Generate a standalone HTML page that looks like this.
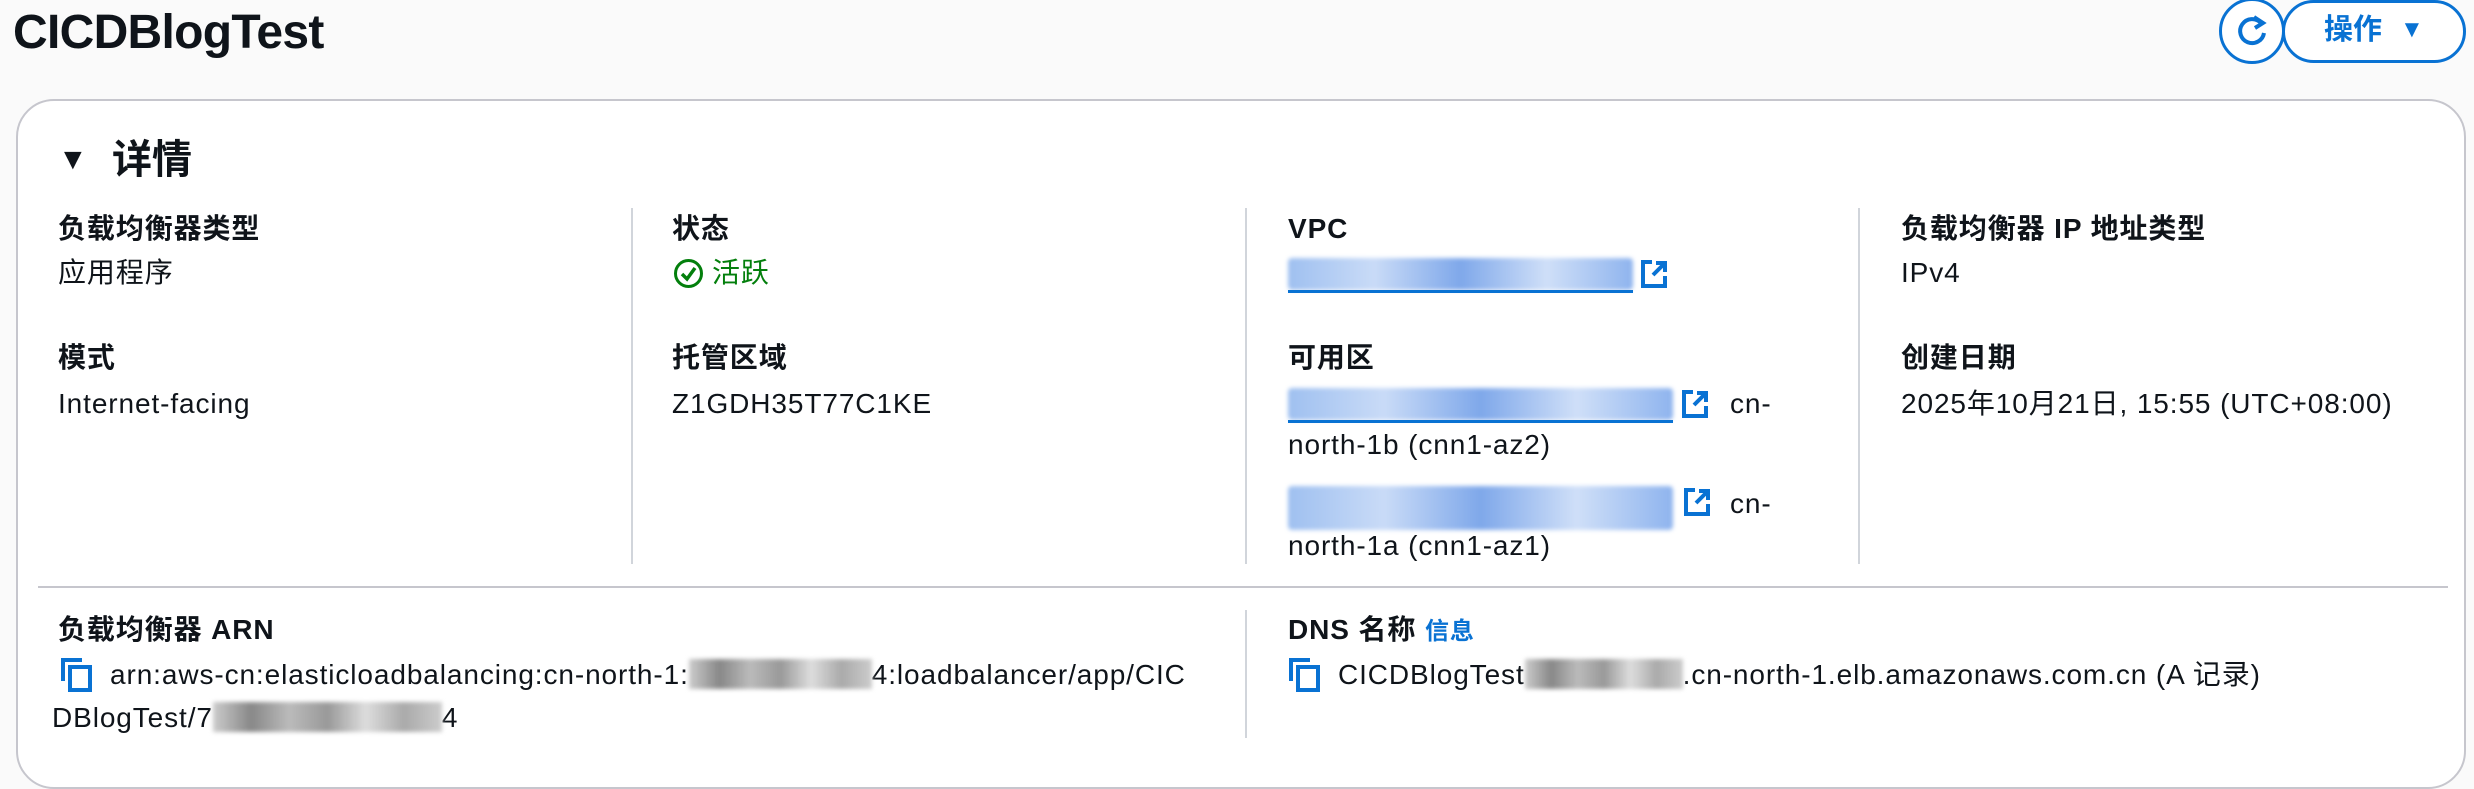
<!DOCTYPE html>
<html><head><meta charset="utf-8"><style>
*{margin:0;padding:0;box-sizing:border-box}
body{width:2474px;height:780px;background:#fafafa;font-family:"Liberation Sans","Noto Sans CJK SC",sans-serif;color:#0f141a;position:relative;overflow:hidden}
.a{position:absolute;white-space:nowrap;line-height:1}
.t{font-size:28px;letter-spacing:0.9px}
.b{font-weight:bold}
.link{color:#0972d3}
.vd{position:absolute;width:2px;background:#d1d5db}
.blur{position:absolute;background:linear-gradient(90deg,#9fc0f0,#c9dbf7,#7fa8ea,#cfdff8,#8fb4ee);filter:blur(2px);border-radius:4px}
.g{display:inline-block;vertical-align:middle;height:30px;background:linear-gradient(90deg,#ccc,#888,#bbb,#999,#ddd,#aaa,#ccc);filter:blur(2px)}
</style></head><body>
<div class="a b" style="left:13px;top:9px;font-size:48px;letter-spacing:-0.7px">CICDBlogTest</div>
<div class="a" style="left:2219px;top:-2px;width:66px;height:66px;border:3px solid #0972d3;border-radius:50%;background:#fff"></div>
<svg class="a" style="left:2234px;top:13px" width="36" height="36" viewBox="0 0 36 36"><path d="M27 10 A12 12 0 1 0 30 20" fill="none" stroke="#0972d3" stroke-width="4"/><path d="M20 4 L29 10 L21 15" fill="none" stroke="#0972d3" stroke-width="4"/></svg>
<div class="a" style="left:2282px;top:0;width:184px;height:63px;border:3px solid #0972d3;border-radius:32px;background:#fff"></div>
<div class="a b link" style="left:2324px;top:16px;font-size:29px">操作</div>
<div class="a link" style="left:2400px;top:18px;font-size:24px">▼</div>

<div class="a" style="left:16px;top:99px;width:2450px;height:690px;background:#fff;border:2px solid #c6c6cd;border-radius:38px"></div>
<div class="a" style="left:58px;top:145px;font-size:30px">▼</div>
<div class="a b" style="left:112px;top:140px;font-size:40px">详情</div>

<div class="vd" style="left:631px;top:208px;height:356px"></div>
<div class="vd" style="left:1245px;top:208px;height:356px"></div>
<div class="vd" style="left:1858px;top:208px;height:356px"></div>

<div class="a t b" style="left:58px;top:215px">负载均衡器类型</div>
<div class="a t" style="left:58px;top:259px">应用程序</div>
<div class="a t b" style="left:58px;top:344px">模式</div>
<div class="a t" style="left:58px;top:390px">Internet-facing</div>

<div class="a t b" style="left:672px;top:215px">状态</div>
<div class="a" style="left:674px;top:259px;width:29px;height:29px;border:3px solid #037f0c;border-radius:50%"></div>
<svg class="a" style="left:680px;top:266px" width="18" height="16"><path d="M2 8 L7 13 L15 2" fill="none" stroke="#037f0c" stroke-width="3.5"/></svg>
<div class="a t" style="left:712px;top:259px;color:#037f0c">活跃</div>
<div class="a t b" style="left:672px;top:344px">托管区域</div>
<div class="a t" style="left:672px;top:390px">Z1GDH35T77C1KE</div>

<div class="a t b" style="left:1288px;top:215px">VPC</div>
<div class="blur" style="left:1288px;top:258px;width:345px;height:32px"></div>
<div class="a" style="left:1288px;top:290px;width:345px;height:3px;background:#0972d3"></div>
<svg class="a" style="left:1640px;top:259px" width="28" height="30" viewBox="0 0 28 30"><path d="M12 3 H3 V27 H25 V17" fill="none" stroke="#0972d3" stroke-width="4"/><path d="M13 16 L24 5 M16 4 H25 V13" fill="none" stroke="#0972d3" stroke-width="4"/></svg>
<div class="a t b" style="left:1288px;top:344px">可用区</div>
<div class="blur" style="left:1288px;top:388px;width:385px;height:32px"></div>
<div class="a" style="left:1288px;top:420px;width:385px;height:3px;background:#0972d3"></div>
<svg class="a" style="left:1681px;top:389px" width="28" height="30" viewBox="0 0 28 30"><path d="M12 3 H3 V27 H25 V17" fill="none" stroke="#0972d3" stroke-width="4"/><path d="M13 16 L24 5 M16 4 H25 V13" fill="none" stroke="#0972d3" stroke-width="4"/></svg>
<div class="a t" style="left:1730px;top:390px">cn-</div>
<div class="a t" style="left:1288px;top:431px">north-1b (cnn1-az2)</div>
<div class="blur" style="left:1288px;top:486px;width:385px;height:44px"></div>
<svg class="a" style="left:1683px;top:487px" width="28" height="30" viewBox="0 0 28 30"><path d="M12 3 H3 V27 H25 V17" fill="none" stroke="#0972d3" stroke-width="4"/><path d="M13 16 L24 5 M16 4 H25 V13" fill="none" stroke="#0972d3" stroke-width="4"/></svg>
<div class="a t" style="left:1730px;top:490px">cn-</div>
<div class="a t" style="left:1288px;top:532px">north-1a (cnn1-az1)</div>

<div class="a t b" style="left:1901px;top:215px">负载均衡器 IP 地址类型</div>
<div class="a t" style="left:1901px;top:259px">IPv4</div>
<div class="a t b" style="left:1901px;top:344px">创建日期</div>
<div class="a t" style="left:1901px;top:390px">2025年10月21日, 15:55 (UTC+08:00)</div>

<div class="a" style="left:38px;top:586px;width:2410px;height:2px;background:#c6c6cd"></div>
<div class="vd" style="left:1245px;top:610px;height:128px"></div>

<div class="a t b" style="left:58px;top:616px">负载均衡器 ARN</div>
<svg class="a" style="left:60px;top:657px" width="34" height="36" viewBox="0 0 34 36"><path d="M3 24 V3 H22" fill="none" stroke="#0972d3" stroke-width="4"/><rect x="10" y="10" width="20" height="23" fill="none" stroke="#0972d3" stroke-width="4"/></svg>
<div class="a t" style="left:110px;top:661px">arn:aws-cn:elasticloadbalancing:cn-north-1:<span class="g" style="width:183px;margin-top:-6px"></span>4:loadbalancer/app/CIC</div>
<div class="a t" style="left:52px;top:704px">DBlogTest/7<span class="g" style="width:229px;margin-top:-6px"></span>4</div>

<div class="a t b" style="left:1288px;top:616px">DNS 名称 <span class="link" style="font-size:24px">信息</span></div>
<svg class="a" style="left:1288px;top:657px" width="34" height="36" viewBox="0 0 34 36"><path d="M3 24 V3 H22" fill="none" stroke="#0972d3" stroke-width="4"/><rect x="10" y="10" width="20" height="23" fill="none" stroke="#0972d3" stroke-width="4"/></svg>
<div class="a t" style="left:1338px;top:661px">CICDBlogTest<span class="g" style="width:158px;margin-top:-6px"></span>.cn-north-1.elb.amazonaws.com.cn (A 记录)</div>
</body></html>
